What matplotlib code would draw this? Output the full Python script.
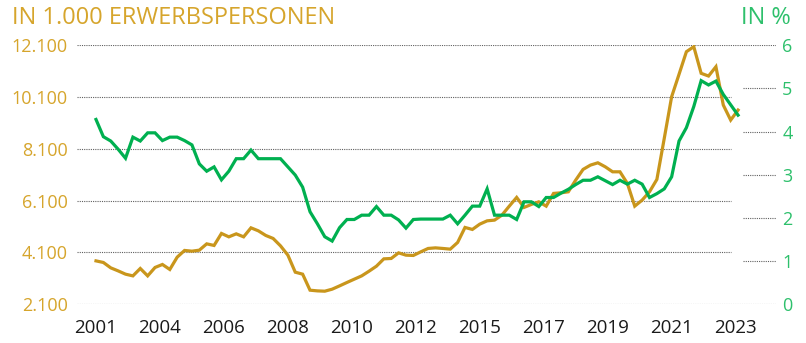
import matplotlib
matplotlib.use("Agg")
import matplotlib.pyplot as plt
import numpy as np

# Erwerbspersonen (in 1.000) and rate (in %), quarterly
persons_k = [
    3767, 3705, 3497, 3380, 3253, 3187, 3473, 3187, 3512, 3628,
    3435, 3910, 4170, 4142, 4181, 4425, 4363, 4827, 4696, 4812,
    4696, 5044, 4928, 4750, 4634, 4348, 3988, 3330, 3253, 2634,
    2607, 2595, 2673, 2800, 2932, 3060, 3187, 3369, 3562, 3845,
    3860, 4077, 3988, 3976, 4115, 4247, 4270, 4247, 4220, 4479,
    5059, 4982, 5187, 5315, 5342, 5535, 5883, 6220, 5833, 5949,
    6050, 5883, 6375, 6398, 6437, 6889, 7303, 7469, 7558, 7404,
    7210, 7210, 6761, 5883, 6115, 6437, 6916, 8502, 10112, 10978,
    11852, 12046, 11017, 10912, 11272, 9790, 9210, 9597,
]
rate_pct = [
    4.28, 3.88, 3.78, 3.59, 3.38, 3.87, 3.78, 3.97, 3.97, 3.79,
    3.87, 3.87, 3.79, 3.69, 3.25, 3.08, 3.18, 2.88, 3.08, 3.37,
    3.37, 3.57, 3.37, 3.37, 3.37, 3.37, 3.18, 2.99, 2.71, 2.14,
    1.86, 1.56, 1.46, 1.77, 1.96, 1.96, 2.06, 2.06, 2.26, 2.06,
    2.06, 1.95, 1.76, 1.96, 1.97, 1.97, 1.97, 1.97, 2.06, 1.86,
    2.06, 2.27, 2.27, 2.67, 2.06, 2.06, 2.06, 1.96, 2.37, 2.37,
    2.26, 2.47, 2.47, 2.57, 2.66, 2.77, 2.87, 2.87, 2.95, 2.86,
    2.77, 2.87, 2.78, 2.87, 2.78, 2.47, 2.56, 2.67, 2.95, 3.78,
    4.09, 4.58, 5.18, 5.08, 5.17, 4.86, 4.62, 4.38,
]
year_labels = ["2001", "2004", "2006", "2008", "2010", "2012",
               "2015", "2017", "2019", "2021", "2023"]
left_ticks = [2100, 4100, 6100, 8100, 10100, 12100]
left_labels = ["2.100", "4.100", "6.100", "8.100", "10.100", "12.100"]
right_ticks = [0, 1, 2, 3, 4, 5, 6]

GOLD = "#C9961C"
GOLD_TXT = "#D6A52C"
GREEN = "#00B050"
GREEN_TXT = "#2EC06C"
GRID = "#606060"
DOTS = (0, (1, 1))

plt.rcParams["font.family"] = ["Open Sans", "DejaVu Sans"]

W, H = 806, 343
fig = plt.figure(figsize=(W / 100, H / 100), dpi=100)
x_left, x_right, y_top, y_bot = 77, 776, 45.3, 304
ax = fig.add_axes([x_left / W, 1 - y_bot / H, (x_right - x_left) / W, (y_bot - y_top) / H])
ax2 = ax.twinx()

x = np.arange(len(persons_k))
dx = 7.38
ax.set_xlim(-(96 - x_left) / dx, (x_right - 96) / dx)
ax.set_ylim(2100, 12100)
ax2.set_ylim(0, 6)

# full-width lines at top and bottom, shorter ones inside
for v in left_ticks:
    full = v in (2100, 12100)
    ax.axhline(v, xmin=0, xmax=1 if full else 0.935, color=GRID, ls=DOTS, lw=0.8, zorder=0)
for v in right_ticks[1:-1]:
    ax2.axhline(v, xmin=0.953, xmax=1, color=GRID, ls=DOTS, lw=0.8, zorder=0)

ax.plot(x, persons_k, color=GOLD, lw=2.3, solid_joinstyle="miter")
ax2.plot(x, rate_pct, color=GREEN, lw=2.3, solid_joinstyle="miter")

for a in (ax, ax2):
    for s in a.spines.values():
        s.set_visible(False)

ax.set_yticks(left_ticks, left_labels)
ax.tick_params(axis="y", length=0, pad=6.5, labelsize=13, labelcolor=GOLD_TXT)
ax2.set_yticks(right_ticks, [str(t) for t in right_ticks])
ax2.tick_params(axis="y", length=0, pad=4.5, labelsize=13, labelcolor=GREEN_TXT)

ax.set_xticks(np.linspace(0, 86.7, len(year_labels)), year_labels)
ax.tick_params(axis="x", length=0, pad=11, labelsize=13.5, labelcolor="#1a1a1a")

fig.text(12 / W, 1 - 18 / H, "IN 1.000 ERWERBSPERSONEN", color=GOLD_TXT,
         fontsize=17, ha="left", va="center")
fig.text(791 / W, 1 - 18 / H, "IN %", color=GREEN_TXT,
         fontsize=17, ha="right", va="center")

fig.savefig("out.png", dpi=100)
